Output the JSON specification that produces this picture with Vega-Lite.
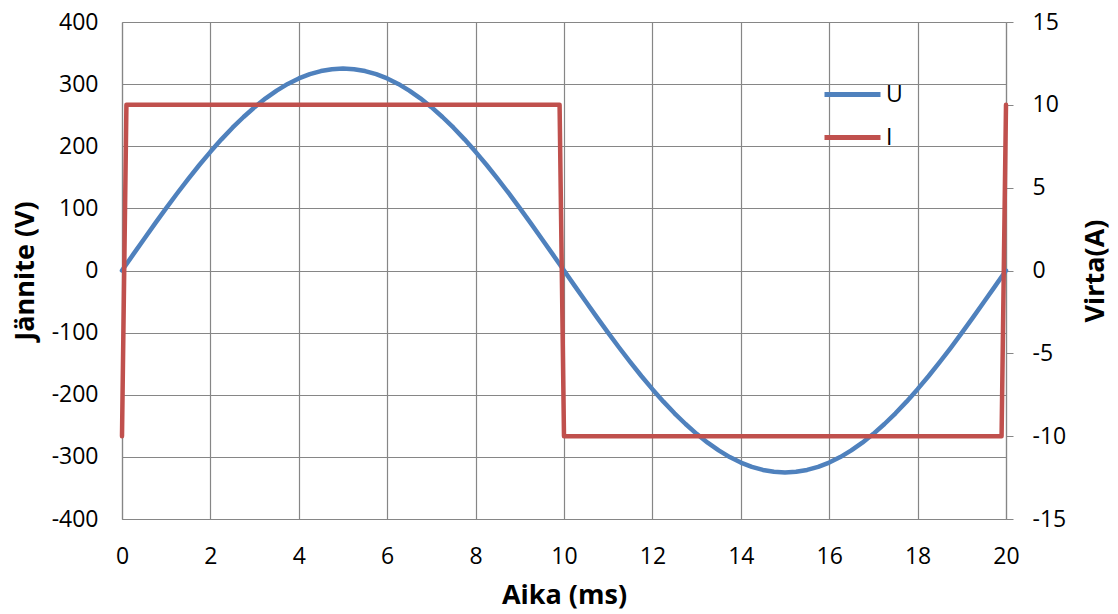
{
  "$schema": "https://vega.github.io/schema/vega-lite/v6.json",
  "width": 884,
  "height": 497,
  "autosize": {"type": "none"},
  "padding": {"left": 122, "top": 22, "right": 112, "bottom": 95},
  "background": "white",
  "config": {
    "font": "Open Sans",
    "view": {"stroke": null},
    "axis": {"labelFontSize": 23, "labelColor": "#000000", "titleFontSize": 27, "titleFontWeight": "bold", "titleColor": "#000000", "gridColor": "#868686", "gridOpacity": 1, "domainColor": "#868686", "tickColor": "#868686", "gridWidth": 1.2, "domainWidth": 1.2, "labelExpr": "'' + datum.value", "labelFlush": false}
  },
  "datasets": {
    "u": [
      {"t": 0, "U": 0}, {"t": 0.25, "U": 25.5}, {"t": 0.5, "U": 50.8}, {"t": 0.75, "U": 75.9}, {"t": 1, "U": 100.4},
      {"t": 1.25, "U": 124.4}, {"t": 1.5, "U": 147.5}, {"t": 1.75, "U": 169.8}, {"t": 2, "U": 191.0}, {"t": 2.25, "U": 211.1},
      {"t": 2.5, "U": 229.8}, {"t": 2.75, "U": 247.1}, {"t": 3, "U": 262.9}, {"t": 3.25, "U": 277.1}, {"t": 3.5, "U": 289.6},
      {"t": 3.75, "U": 300.3}, {"t": 4, "U": 309.1}, {"t": 4.25, "U": 316.0}, {"t": 4.5, "U": 321.0}, {"t": 4.75, "U": 324.0},
      {"t": 5, "U": 325}, {"t": 5.25, "U": 324.0}, {"t": 5.5, "U": 321.0}, {"t": 5.75, "U": 316.0}, {"t": 6, "U": 309.1},
      {"t": 6.25, "U": 300.3}, {"t": 6.5, "U": 289.6}, {"t": 6.75, "U": 277.1}, {"t": 7, "U": 262.9}, {"t": 7.25, "U": 247.1},
      {"t": 7.5, "U": 229.8}, {"t": 7.75, "U": 211.1}, {"t": 8, "U": 191.0}, {"t": 8.25, "U": 169.8}, {"t": 8.5, "U": 147.5},
      {"t": 8.75, "U": 124.4}, {"t": 9, "U": 100.4}, {"t": 9.25, "U": 75.9}, {"t": 9.5, "U": 50.8}, {"t": 9.75, "U": 25.5},
      {"t": 10, "U": 0}, {"t": 10.25, "U": -25.5}, {"t": 10.5, "U": -50.8}, {"t": 10.75, "U": -75.9}, {"t": 11, "U": -100.4},
      {"t": 11.25, "U": -124.4}, {"t": 11.5, "U": -147.5}, {"t": 11.75, "U": -169.8}, {"t": 12, "U": -191.0}, {"t": 12.25, "U": -211.1},
      {"t": 12.5, "U": -229.8}, {"t": 12.75, "U": -247.1}, {"t": 13, "U": -262.9}, {"t": 13.25, "U": -277.1}, {"t": 13.5, "U": -289.6},
      {"t": 13.75, "U": -300.3}, {"t": 14, "U": -309.1}, {"t": 14.25, "U": -316.0}, {"t": 14.5, "U": -321.0}, {"t": 14.75, "U": -324.0},
      {"t": 15, "U": -325}, {"t": 15.25, "U": -324.0}, {"t": 15.5, "U": -321.0}, {"t": 15.75, "U": -316.0}, {"t": 16, "U": -309.1},
      {"t": 16.25, "U": -300.3}, {"t": 16.5, "U": -289.6}, {"t": 16.75, "U": -277.1}, {"t": 17, "U": -262.9}, {"t": 17.25, "U": -247.1},
      {"t": 17.5, "U": -229.8}, {"t": 17.75, "U": -211.1}, {"t": 18, "U": -191.0}, {"t": 18.25, "U": -169.8}, {"t": 18.5, "U": -147.5},
      {"t": 18.75, "U": -124.4}, {"t": 19, "U": -100.4}, {"t": 19.25, "U": -75.9}, {"t": 19.5, "U": -50.8}, {"t": 19.75, "U": -25.5},
      {"t": 20, "U": 0}
    ],
    "i": [
      {"t": 0, "I": -10}, {"t": 0.1, "I": 10}, {"t": 9.9, "I": 10}, {"t": 10, "I": -10}, {"t": 19.9, "I": -10}, {"t": 20, "I": 10}
    ]
  },
  "layer": [
    {
      "data": {"name": "u"},
      "mark": {"type": "line", "strokeWidth": 4.5, "strokeCap": "round", "strokeJoin": "round"},
      "encoding": {
        "x": {"field": "t", "type": "quantitative", "title": "Aika (ms)", "scale": {"domain": [0, 20], "nice": false},
          "axis": {"values": [0, 2, 4, 6, 8, 10, 12, 14, 16, 18, 20], "ticks": false, "labelPadding": 26, "titlePadding": 14, "grid": true}},
        "y": {"field": "U", "type": "quantitative", "title": "Jännite (V)", "scale": {"domain": [-400, 400], "nice": false},
          "axis": {"values": [-400, -300, -200, -100, 0, 100, 200, 300, 400], "ticks": false, "labelPadding": 24, "titlePadding": 12, "grid": true}},
        "color": {"datum": "U", "type": "nominal",
          "scale": {"domain": ["U", "I"], "range": ["#4F81BD", "#C0504D"]},
          "legend": {"title": null, "orient": "none", "legendX": 700, "legendY": 42, "symbolType": "stroke", "symbolSize": 3136, "symbolStrokeWidth": 5, "labelFontSize": 23, "labelColor": "#000000", "labelOffset": 3, "rowPadding": -9}}
      }
    },
    {
      "data": {"name": "i"},
      "mark": {"type": "line", "strokeWidth": 4.5, "strokeCap": "round", "strokeJoin": "round"},
      "encoding": {
        "x": {"field": "t", "type": "quantitative"},
        "y": {"field": "I", "type": "quantitative", "title": "Virta(A)", "scale": {"domain": [-15, 15], "nice": false},
          "axis": {"orient": "right", "values": [-15, -10, -5, 0, 5, 10, 15], "grid": false, "ticks": true, "tickSize": 7, "labelPadding": 19, "titlePadding": 44, "titleAngle": 270}},
        "color": {"datum": "I", "type": "nominal"}
      }
    }
  ],
  "resolve": {"scale": {"y": "independent"}}
}
